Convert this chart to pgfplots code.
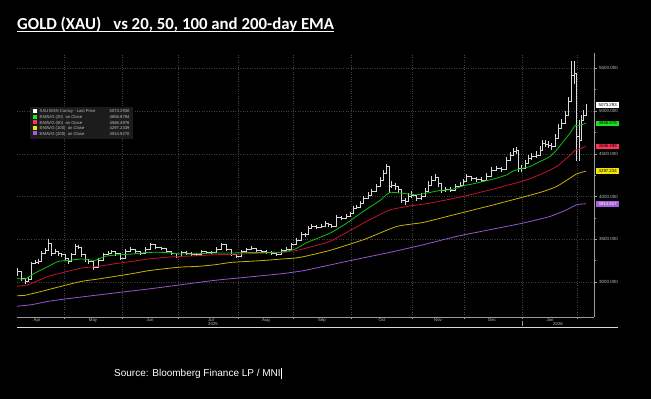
\documentclass[border=0pt]{standalone}
\usepackage{pgfplots}
\pgfplotsset{compat=1.18}
\usepackage{fontspec}
\setmainfont{Liberation Sans}
\newfontfamily\titlefont{Carlito}
\definecolor{gridgray}{HTML}{404040}
\definecolor{axisgray}{HTML}{9A9A9A}
\definecolor{labelgray}{HTML}{C0C0C0}
\definecolor{pricecol}{HTML}{D9D9D9}
\definecolor{emagreen}{HTML}{10C010}
\definecolor{emared}{HTML}{C8102E}
\definecolor{emayellow}{HTML}{C8B400}
\definecolor{emapurple}{HTML}{9955CC}
\definecolor{taggreen}{HTML}{19E619}
\definecolor{tagred}{HTML}{FF3355}
\definecolor{tagyellow}{HTML}{F5E400}
\definecolor{tagpurple}{HTML}{A65FD9}
\definecolor{legbg}{HTML}{1C1C1C}
\newcommand{\sq}[1]{\textcolor{#1}{\rule{4pt}{4pt}}}
\begin{document}
\begin{tikzpicture}[x=1pt,y=1pt]
\fill[black] (0,0) rectangle (651,399);
\begin{axis}[
  at={(17,96)}, anchor=south west, scale only axis,
  width=577pt, height=264pt,
  xmin=17, xmax=594, ymin=2591, ymax=5680,
  clip mode=individual,
  axis x line*=bottom, axis y line*=right,
  axis line style={draw=axisgray, line width=0.6pt, -},
  xtick={64,122,178,238,293,351,412,464,522,577},
  xticklabels={},
  extra x ticks={37,93,150,211,266,322,382,438,492,550},
  extra x tick labels={Apr,May,Jun,Jul,Aug,Sep,Oct,Nov,Dec,Jan},
  extra x tick style={grid=none, major tick length=0pt},
  ytick={3000,3500,4000,4500,5000,5500},
  minor y tick num=1,
  yticklabel pos=right,
  scaled y ticks=false,
  /pgf/number format/assume math mode=true,
  yticklabel style={/pgf/number format/fixed, /pgf/number format/fixed zerofill,
    /pgf/number format/precision=3, /pgf/number format/1000 sep={},
    font=\fontsize{4.5}{5}\selectfont, text=labelgray, xshift=-1pt},
  xticklabel style={font=\fontsize{4.3}{5}\selectfont, text=labelgray, yshift=2.2pt},
  xmajorgrids, ymajorgrids,
  major grid style={draw=gridgray, dotted, line width=0.5pt},
  tick align=outside,
  major tick length=2.5pt, minor tick length=2pt,
  tick style={draw=axisgray, line width=0.5pt},
]
% price (close with high/low ranges)
\addplot[const plot, draw=pricecol, line width=0.5pt, mark=none,
  error bars/.cd, y dir=both, y explicit, error mark=none,
  error bar style={draw=pricecol, line width=0.45pt}]
  table[x=x, y=y, y error plus=ep, y error minus=em] {
x y ep em
17.7 3125 40 60
21.7 3047 30 30
25 3008 25 30
28.3 3035 20 30
31.7 3214 20 60
35 3230 25 25
38.3 3241 25 25
41.7 3339 25 30
45 3370 30 25
48.3 3455 47 40
51.7 3339 30 30
55 3358 25 25
58.3 3331 25 25
61.7 3319 25 25
65 3280 25 25
68.3 3241 25 25
71.7 3319 25 25
75 3424 25 30
78.3 3409 20 25
81.7 3319 25 25
85 3261 25 25
88.3 3241 25 25
93.3 3171 25 35
98.3 3253 25 25
103.3 3319 25 25
108.3 3339 25 25
111.7 3354 25 25
115 3331 25 25
120 3280 25 25
125 3358 25 25
130 3385 25 25
135 3358 20 20
140 3339 20 20
145 3385 20 20
150 3436 25 20
155 3409 20 20
161.7 3393 20 20
166.7 3354 20 20
171.7 3339 20 20
176.7 3300 20 25
181.7 3346 20 20
186.7 3339 20 20
191.7 3327 20 20
196.7 3319 20 20
201.7 3358 20 20
206.7 3346 20 20
211.7 3346 20 20
216.7 3385 20 20
221.7 3436 20 20
226.7 3378 20 20
231.7 3319 20 20
236.7 3300 20 20
241.7 3358 20 20
246.7 3378 20 20
251.7 3397 20 20
256.7 3370 20 20
261.7 3358 20 20
266.7 3350 20 20
271.7 3339 20 20
276.7 3327 20 20
281.7 3370 20 20
286.7 3385 20 20
291.7 3436 20 20
296.7 3494 25 20
301.7 3561 25 25
305 3553 25 25
308.3 3631 25 25
311.7 3651 25 25
316.7 3643 25 25
321.7 3658 25 25
325 3690 25 25
328.3 3670 25 25
331.7 3658 25 25
336.7 3760 25 25
341.7 3748 25 25
346.7 3767 25 25
350 3799 25 25
353.3 3865 25 25
356.7 3876 25 25
360 3923 25 25
363.3 3982 30 30
368.3 4020 30 30
371.7 4059 30 30
376 4118 30 30
380 4196 30 30
383.3 4273 35 35
386.7 4351 35 35
389.3 4118 230 80
391.7 4137 40 40
395 4118 40 40
398.3 4087 40 40
401.7 3962 40 40
405 3943 40 40
408.3 4001 40 40
411.7 4020 40 40
416.7 3982 40 40
421.7 4001 40 40
425 4059 40 40
428.3 4137 40 40
431.7 4196 40 40
435 4227 40 40
438.3 4157 40 40
441.7 4079 40 40
445 4087 30 30
450 4079 30 30
455 4118 30 30
460 4137 30 30
463.3 4176 30 30
466.7 4235 30 30
471.7 4215 30 30
476.7 4203 30 30
481.7 4196 30 30
486.7 4242 30 30
491.7 4312 30 30
496.7 4332 30 30
501.7 4320 30 30
506.7 4429 35 35
510 4488 35 35
513.3 4527 40 40
516.7 4538 40 40
518.3 4332 200 40
521.7 4332 40 40
525 4390 40 40
528.3 4449 40 40
531.7 4468 40 40
536.7 4488 40 40
540 4546 40 40
542.3 4624 40 40
545 4616 40 40
548.3 4604 40 40
551.7 4585 40 40
555 4682 50 50
558.3 4799 50 50
561.7 4857 50 50
565 4955 50 50
568.3 5110 60 60
571.7 5422 167 100
574 5441 140 120
576.7 4702 740 292
579 4663 233 253
581.7 4896 60 100
583.3 4955 60 60
586 5052 30 60
};
% EMA 200
\addplot[emapurple, line width=0.8pt, smooth, tension=0.3, mark=none] table {
17 2716
31.7 2735
48.3 2774
65 2801
81.7 2825
115 2872
148.3 2918
181.7 2969
215 3020
248.3 3058
281.7 3097
305 3136
350 3250
390 3347
423.3 3436
456.7 3534
490 3612
523.3 3690
550 3767
566.7 3845
576.7 3904
586 3915
};
% EMA 100
\addplot[emayellow, line width=0.8pt, smooth, tension=0.3, mark=none] table {
17 2840
25 2844
41.7 2891
65 2961
81.7 3008
98.3 3035
115 3066
131.7 3097
148.3 3132
165 3156
181.7 3175
198.3 3183
215 3202
231.7 3230
248.3 3241
265 3253
281.7 3269
295 3280
305 3300
330 3370
363.3 3494
396.7 3650
423.3 3697
456.7 3795
490 3892
506.7 3943
530 4015
543.3 4059
556.7 4118
570 4215
576.7 4266
586 4297
};
% EMA 50
\addplot[emared, line width=0.8pt, smooth, tension=0.3, mark=none] table {
17 2950
28.3 2969
48.3 3066
65 3117
81.7 3164
98.3 3183
115 3214
131.7 3241
148.3 3269
165 3288
181.7 3300
198.3 3308
215 3319
231.7 3323
248.3 3331
265 3339
281.7 3346
295 3366
306.7 3398
330 3475
346.7 3580
363.3 3689
376.7 3770
390 3844
410 3890
430 3923
463.3 4001
496.7 4098
526.7 4195
543.3 4273
556.7 4351
566.7 4449
575 4538
586 4586
};
% EMA 20
\addplot[emagreen, line width=0.8pt, smooth, tension=0.3, mark=none] table {
17 3042
25 3035
35 3105
48.3 3183
58.3 3241
68.3 3253
81.7 3269
95 3253
105 3300
115 3315
131.7 3327
148.3 3346
165 3346
181.7 3327
198.3 3331
215 3339
231.7 3339
248.3 3346
265 3346
281.7 3350
295 3385
306.7 3460
330 3572
346.7 3689
363.3 3826
380 3954
390 4048
406.7 4032
416.7 4020
426.7 4040
440 4071
450 4079
456.7 4098
463.3 4126
473.3 4149
483.3 4176
496.7 4215
506.7 4254
513.3 4300
523.3 4332
530 4351
540 4410
550 4468
556.7 4546
563.3 4643
570 4741
575 4830
580 4835
586 4857
};
% right-side value tags
\begin{scope}[every node/.style={anchor=west, inner xsep=1pt, inner ysep=0.8pt,
  minimum width=23pt, minimum height=5.5pt, font=\fontsize{4.3}{5}\selectfont, text=black}]
\node[fill=white] at (axis cs:594,5073) [xshift=2pt] {5073.293};
\node[fill=taggreen] at (axis cs:594,4857) [xshift=2pt] {4856.878};
\node[fill=tagred] at (axis cs:594,4586) [xshift=2pt] {4586.498};
\node[fill=tagyellow] at (axis cs:594,4297) [xshift=2pt] {4297.234};
\node[fill=tagpurple, text=white] at (axis cs:594,3915) [xshift=2pt] {3914.927};
\end{scope}
\end{axis}
% year labels and separator
\node[font=\fontsize{4.3}{5}\selectfont, text=labelgray] at (213,74.5) {2025};
\node[font=\fontsize{4.3}{5}\selectfont, text=labelgray] at (558,74.5) {2026};
\draw[axisgray, line width=0.5pt] (522,73) -- (522,77.5);
\draw[white!85!black, line width=0.8pt] (17,71.5) -- (618,71.5);
% legend box
\node[anchor=north west, fill=legbg, inner xsep=3pt, inner ysep=1.8pt, text=labelgray,
  font=\fontsize{4.2}{5.3}\selectfont] at (30,292) {%
  \begin{tabular}{@{}l@{\hspace{2.5pt}}p{70pt}@{}r@{}}
  \sq{white} & XAU BGN Curncy - Last Price & 5073.2930\\
  \sq{taggreen} & EMAVG (20)\ \ on Close & 4856.8784\\
  \sq{tagred} & EMAVG (50)\ \ on Close & 4586.4976\\
  \sq{tagyellow} & EMAVG (100)\ \ on Close & 4297.2339\\
  \sq{tagpurple} & EMAVG (200)\ \ on Close & 3914.9270
  \end{tabular}};
% title
\node[anchor=base west, inner sep=0, text=white,
  font=\titlefont\bfseries\fontsize{16.8}{19}\selectfont] (t) at (17,369.7)
  {GOLD (XAU)\hspace{12pt}vs 20, 50, 100 and 200-day EMA};
\draw[white, line width=1pt] ([yshift=-2.4pt]t.base west) -- ([yshift=-2.4pt]t.base east);
% source
\node[anchor=base west, inner sep=0, text=white, font=\fontsize{10}{12}\selectfont]
  at (114,22.3) {Source: Bloomberg Finance LP / MNI};
\draw[white, line width=0.6pt] (281.7,20.3) -- (281.7,30.7);
\pgfresetboundingbox
\useasboundingbox (0,0) rectangle (651,399);
\end{tikzpicture}
\end{document}
